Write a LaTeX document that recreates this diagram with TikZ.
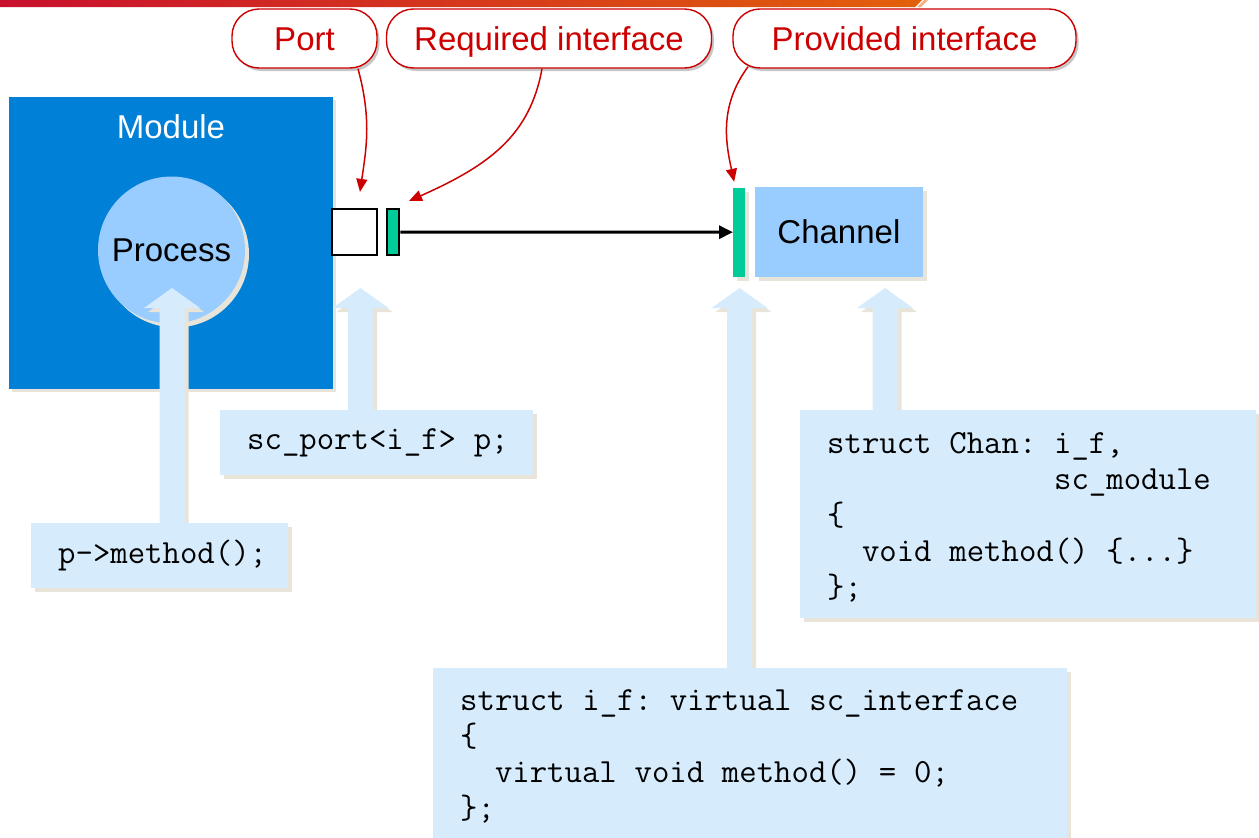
\documentclass[tikz,border=0pt]{standalone}
\usepackage{fontspec}
\setmainfont{Liberation Sans}
\usetikzlibrary{arrows.meta,shadows}

\definecolor{modblue}{RGB}{0,128,214}
\definecolor{lightblue}{RGB}{153,204,255}
\definecolor{paleblue}{RGB}{214,236,252}
\definecolor{beige}{RGB}{232,228,218}
\definecolor{ifgreen}{RGB}{0,204,153}
\definecolor{calred}{RGB}{204,0,0}
\definecolor{barred}{RGB}{200,16,46}
\definecolor{barmid}{RGB}{218,12,26}
\definecolor{barorange}{RGB}{226,96,10}
\definecolor{peach}{RGB}{244,176,128}

\newcommand\sanstext{\fontsize{33}{38}\selectfont}
\newcommand\codetext{\ttfamily\fontsize{33.8}{36}\selectfont}
% keep every space one character wide inside the code boxes
\newcommand\fixedpitch{\spaceskip=17.75pt\relax\xspaceskip=17.75pt\relax}
% extra head room above the first code line
\newcommand\headroom[1]{\rule{0pt}{\dimexpr\fontcharht\font`h+#1\relax}}

% upward block arrow: #1 = x of axis, #2 = y of tip, #3 = y of foot
\newcommand\fatarrow[3]{%
  \fill[paleblue, beigeshadow]
    (#1-12.5,#3) -- (#1-12.5,#2+20) -- (#1-28,#2+20) -- (#1,#2)
    -- (#1+28,#2+20) -- (#1+12.5,#2+20) -- (#1+12.5,#3) -- cycle;}

\tikzset{
  beigeshadow/.style={drop shadow={shadow xshift=4pt, shadow yshift=-4pt,
      fill=beige, opacity=1}},
  callout/.style={draw=calred, line width=1.4pt, fill=white,
      rounded corners=27pt, minimum height=59pt, inner sep=0pt,
      text height=23.6pt, text depth=0pt,
      text=calred, font=\sanstext,
      drop shadow={shadow xshift=2.5pt, shadow yshift=-3pt,
      fill=black, opacity=0.22}},
  callarrow/.style={draw=calred, line width=1.5pt,
      -{Triangle[length=13pt,width=11pt]}},
  codebox/.style={fill=paleblue, beigeshadow, font=\codetext,
      align=left, anchor=north west, inner xsep=27pt, inner ysep=0pt},
  lightbox/.style={fill=lightblue, beigeshadow, inner sep=0pt,
      font=\sanstext},
  greenbar/.style={fill=ifgreen, inner sep=0pt},
}

\begin{document}
\begin{tikzpicture}[x=1pt, y=-1pt]
\useasboundingbox (0,0) rectangle (1259,838);
\clip (0,0) rectangle (1259,838);

% header band
\shade[left color=barred, middle color=barmid, right color=barorange]
  (0,0) -- (922,0) -- (915,7) -- (0,7) -- cycle;
\fill[peach] (924,0) -- (928,0) -- (921,7) -- (917,7) -- cycle;

% module with its process
\node[fill=modblue, minimum width=324pt, minimum height=292pt, inner sep=0pt,
      drop shadow={shadow xshift=3pt, shadow yshift=-3pt, fill=beige, opacity=1}]
  (module) at (171,243) {};
\node[text=white, font=\sanstext] (modlabel) at (171,127) {Module};
\node[circle, lightbox, minimum size=147pt,
      drop shadow={shadow xshift=3pt, shadow yshift=-3pt, fill=beige, opacity=1}]
  (process) at (171.5,250) {Process};

% port, interfaces and channel
\node[draw=black, line width=2.2pt, fill=white, minimum width=45pt,
      minimum height=46pt, inner sep=0pt] (port) at (354.5,232) {};
\node[greenbar, draw=black, line width=2pt, minimum width=12pt,
      minimum height=46pt] (req) at (393.3,232) {};
\node[greenbar, beigeshadow, minimum width=12pt, minimum height=89pt]
  (prov) at (739.2,232.2) {};
\node[lightbox, minimum width=168pt, minimum height=90pt]
  (chan) at (838.9,231.7) {Channel};

\draw[line width=3pt, -{Triangle[length=14pt,width=13pt]}] (req.east) -- (prov.west);

% block arrows from the code boxes
\fatarrow{172}{288}{523}
\fatarrow{360.5}{288}{411}
\fatarrow{739.5}{288}{669}
\fatarrow{885}{288}{411}

% code boxes
\node[codebox, text width=259pt, minimum height=65pt] (portcode) at (220,410)
  {\fixedpitch\mbox{sc\_port<i\_f> p;}};
\node[codebox, text width=203pt, minimum height=65pt] (callcode) at (31,522.7)
  {\fixedpitch\mbox{p->method();}};
\node[codebox, text width=402pt, minimum height=208pt] (chancode) at (800,410)
  {\fixedpitch\headroom{6pt}struct Chan: i\_f,\\
   \phantom{struct Chan: }sc\_module\\
   \{\\
   \phantom{xx}void method() \{...\}\\
   \};};
\node[codebox, text width=580pt, minimum height=172pt] (ifcode) at (433,668)
  {\fixedpitch\headroom{5pt}struct i\_f: virtual sc\_interface\\
   \{\\
   \phantom{xx}virtual void method() = 0;\\
   \};};

% callouts
\node[callout, minimum width=145pt] (portlbl) at (304.5,38.5) {Port};
\node[callout, minimum width=325pt] (reqlbl) at (549,38.5) {Required interface};
\node[callout, minimum width=343pt] (provlbl) at (904.5,38.5) {Provided interface};

\draw[callarrow] ([xshift=53.5pt]portlbl.south)
  .. controls (372,120) and (366,150) .. ([xshift=5.5pt,yshift=16pt]port.north);
\draw[callarrow] ([xshift=-7pt]reqlbl.south)
  .. controls (530,135) and (490,165) .. ([xshift=8.7pt,yshift=7pt]req.north east);
\draw[callarrow] ([xshift=-156.5pt,yshift=2pt]provlbl.south)
  .. controls (720,105) and (725,140) .. ([xshift=-5pt,yshift=5.7pt]prov.north);
\end{tikzpicture}
\end{document}
